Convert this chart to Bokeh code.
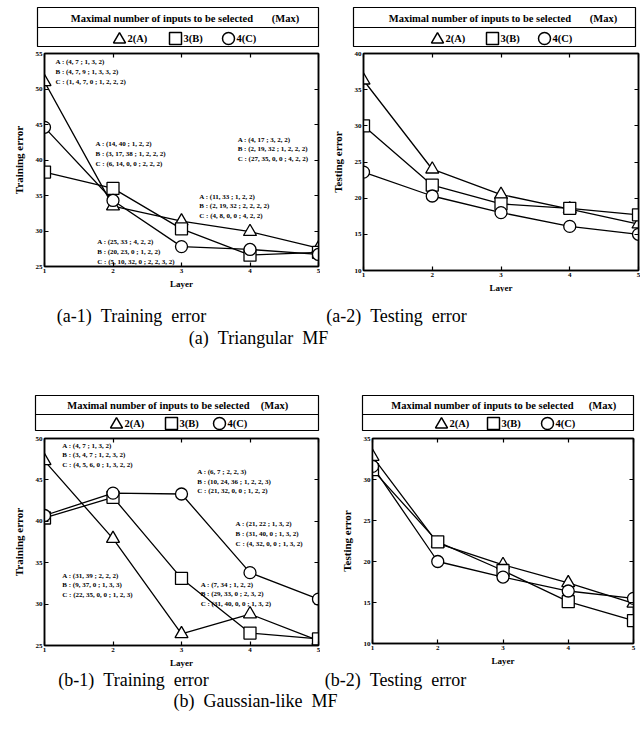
from bokeh.plotting import figure
from bokeh.models import Range1d, LinearAxis, FixedTicker, ColumnDataSource
from bokeh.layouts import column, row
from bokeh.embed import file_html
from bokeh.resources import INLINE
from bokeh.core.properties import value

FONT = "Liberation Serif"
NB = "\u00a0"

# ---------------- data ----------------
layers = [1, 2, 3, 4, 5]
series_labels = ["2(A)", "3(B)", "4(C)"]
series_markers = ["triangle", "square", "circle"]
legend_title = "Maximal number of inputs to be selected"
legend_max = "(Max)"

a1_train_A = [51.0, 33.5, 31.4, 29.9, 27.6]
a1_train_B = [38.3, 36.0, 30.3, 26.6, 27.0]
a1_train_C = [44.6, 34.3, 27.8, 27.4, 26.7]

a2_test_A = [36.3, 24.0, 20.5, 18.5, 16.4]
a2_test_B = [30.0, 21.8, 19.2, 18.6, 17.7]
a2_test_C = [23.6, 20.3, 18.0, 16.1, 15.0]

b1_train_A = [47.3, 37.9, 26.4, 28.8, 25.6]
b1_train_B = [40.4, 42.9, 33.1, 26.5, 25.8]
b1_train_C = [40.7, 43.4, 43.3, 33.8, 30.6]

b2_test_A = [32.8, 22.2, 19.6, 17.4, 14.9]
b2_test_B = [31.2, 22.4, 18.9, 15.1, 12.8]
b2_test_C = [31.6, 20.0, 18.1, 16.4, 15.5]

a1_yticks = [25, 30, 35, 40, 45, 50, 55]
a2_yticks = [10, 15, 20, 25, 30, 35, 40]
b1_yticks = [25, 30, 35, 40, 45, 50]
b2_yticks = [10, 15, 20, 25, 30, 35]

a1_notes = [
    "A : (4, 7 ; 1, 3, 2)\nB : (4, 7, 9 ; 1, 3, 3, 2)\nC : (1, 4, 7, 0 ; 1, 2, 2, 2)",
    "A : (14, 40 ; 1, 2, 2)\nB : (3, 17, 38 ; 1, 2, 2, 2)\nC : (6, 14, 0, 0 ; 2, 2, 2)",
    "A : (4, 17 ; 3, 2, 2)\nB : (2, 19, 32 ; 1, 2, 2, 2)\nC : (27, 35, 0, 0 ; 4, 2, 2)",
    "A : (11, 33 ; 1, 2, 2)\nB : (2, 19, 32 ; 2, 2, 2, 2)\nC : (4, 8, 0, 0 ; 4, 2, 2)",
    "A : (25, 33 ; 4, 2, 2)\nB : (20, 23, 0 ; 1, 2, 2)\nC : (5, 10, 32, 0 ; 2, 2, 3, 2)",
]
a1_notes_x = [1.16, 1.745, 3.82, 3.26, 1.77]
a1_notes_y = [54.3, 42.75, 43.45, 35.4, 28.95]

b1_notes = [
    "A : (4, 7 ; 1, 3, 2)\nB : (3, 4, 7 ; 1, 2, 3, 2)\nC : (4, 5, 6, 0 ; 1, 3, 2, 2)",
    "A : (6, 7 ; 2, 2, 3)\nB : (10, 24, 36 ; 1, 2, 2, 3)\nC : (21, 32, 0, 0 ; 1, 2, 2)",
    "A : (21, 22 ; 1, 3, 2)\nB : (31, 40, 0 ; 1, 3, 2)\nC : (4, 32, 0, 0 ; 1, 3, 2)",
    "A : (31, 39 ; 2, 2, 2)\nB : (9, 37, 0 ; 1, 3, 3)\nC : (22, 35, 0, 0 ; 1, 2, 3)",
    "A : (7, 34 ; 1, 2, 2)\nB : (29, 33, 0 ; 2, 3, 2)\nC : (31, 40, 0, 0 ; 1, 3, 2)",
]
b1_notes_x = [1.26, 3.23, 3.79, 1.26, 3.28]
b1_notes_y = [49.6, 46.4, 40.1, 33.9, 32.85]

captions_a = ["(a-1)  Training  error", "(a-2)  Testing  error", "(a)  Triangular  MF"]
captions_b = ["(b-1)  Training  error", "(b-2)  Testing  error", "(b)  Gaussian-like  MF"]

MARKER_SIZE = {"triangle": 13, "square": 12, "circle": 12}


def style_axis(ax, ticks, hide_labels=False):
    ax.ticker = FixedTicker(ticks=ticks)
    ax.major_tick_in = 4
    ax.major_tick_out = 0
    ax.minor_tick_line_color = None
    ax.axis_line_width = 1.5
    ax.major_tick_line_width = 1.2
    ax.major_label_text_font = FONT
    ax.major_label_text_font_style = "bold"
    ax.major_label_text_color = "black"
    if hide_labels:
        ax.major_label_text_font_size = "0px"
        ax.major_label_standoff = 0
        ax.major_label_overrides = {t: "" for t in ticks}
    else:
        ax.major_label_text_font_size = "7px"
        ax.major_label_standoff = 2


def make_plot(series, yr, yticks, ylabel, left, fw, right, top, fh, bottom,
              notes=None, notes_x=None, notes_y=None):
    p = figure(frame_width=fw, frame_height=fh, min_border_left=left,
               min_border_right=right, min_border_top=top, min_border_bottom=bottom,
               x_range=Range1d(1, 5), y_range=Range1d(*yr),
               toolbar_location=None, output_backend="svg",
               background_fill_color="white", border_fill_color="white",
               outline_line_color="black", outline_line_width=1.5)
    p.grid.visible = False
    style_axis(p.xaxis[0], layers)
    style_axis(p.yaxis[0], yticks)
    p.xaxis.axis_label = "Layer"
    p.yaxis.axis_label = ylabel
    for ax in (p.xaxis[0], p.yaxis[0]):
        ax.axis_label_text_font = FONT
        ax.axis_label_text_font_style = "bold"
        ax.axis_label_text_color = "black"
    p.xaxis.axis_label_text_font_size = "9px"
    p.xaxis.axis_label_standoff = 3
    p.yaxis.axis_label_text_font_size = "11px"
    p.yaxis.axis_label_standoff = 8

    ra = LinearAxis()
    style_axis(ra, yticks, hide_labels=True)
    p.add_layout(ra, "right")
    ta = LinearAxis()
    style_axis(ta, layers, hide_labels=True)
    p.add_layout(ta, "above")

    for vals in series:
        p.line(layers, vals, line_color="black", line_width=1.3)
    for vals, m in zip(series, series_markers):
        p.scatter(layers, vals, marker=m, size=MARKER_SIZE[m], fill_color="white",
                  line_color="black", line_width=1.3)

    if notes:
        src = ColumnDataSource(dict(x=notes_x, y=notes_y, text=notes))
        p.text(x="x", y="y", text="text", source=src, text_font=value(FONT),
               text_font_size=value("7px"), text_font_style="bold",
               text_baseline="top", text_align="left", text_line_height=1.2,
               text_color="black")
    return p


def blank_fig(width, height):
    p = figure(width=width, height=height, x_range=Range1d(0, width),
               y_range=Range1d(height, 0), min_border=0, min_border_left=0,
               min_border_right=0, min_border_top=0, min_border_bottom=0,
               toolbar_location=None, output_backend="svg", x_axis_type=None,
               y_axis_type=None, outline_line_color=None,
               background_fill_color="white", border_fill_color="white")
    p.grid.visible = False
    return p


def make_legend(width, height, box, div_y, title_x, max_x, title_y, row_y, keys):
    p = blank_fig(width, height)
    l, r, t, b = box
    p.quad(left=[l], right=[r], top=[t], bottom=[b], fill_color=None,
           line_color="black", line_width=1.2)
    p.segment(x0=[l], x1=[r], y0=[div_y], y1=[div_y], line_color="black", line_width=1.2)
    p.text(x=[title_x], y=[title_y], text=[legend_title], text_align="center",
           text_baseline="middle", text_font=value(FONT), text_font_size=value("10.5px"),
           text_font_style="bold", text_color="black")
    p.text(x=[max_x], y=[title_y], text=[legend_max], text_align="center",
           text_baseline="middle", text_font=value(FONT), text_font_size=value("10.5px"),
           text_font_style="bold", text_color="black")
    for (mx, lx), m, lab in zip(keys, series_markers, series_labels):
        p.scatter([mx], [row_y + (1 if m == "triangle" else 0)], marker=m, size=12,
                  fill_color="white", line_color="black", line_width=1.5)
        p.text(x=[lx], y=[row_y], text=[lab], text_align="left", text_baseline="middle",
               text_font=value(FONT), text_font_size=value("10.5px"),
               text_font_style="bold", text_color="black")
    return p


def make_caption(width, height, items):
    p = blank_fig(width, height)
    for txt, x, y in items:
        p.text(x=[x], y=[y], text=[txt.replace(" ", NB)], text_align="center",
               text_baseline="middle", text_font=value(FONT),
               text_font_size=value("18px"), text_color="black")
    return p


# ---------------- figures ----------------
leg_a1 = make_legend(320, 48, (37, 318, 7, 46), 27, 161.5, 285, 18, 38,
                     [(119, 127), (175, 183), (228, 236)])
plot_a1 = make_plot([a1_train_A, a1_train_B, a1_train_C], (25, 55), a1_yticks,
                    "Training error", 44, 274, 2, 5, 213, 26,
                    a1_notes, a1_notes_x, a1_notes_y)

leg_a2 = make_legend(320, 48, (33, 315, 7, 46), 27, 159.5, 283, 18, 38,
                     [(117, 125), (172, 180), (224, 232)])
plot_a2 = make_plot([a2_test_A, a2_test_B, a2_test_C], (10, 40), a2_yticks,
                    "Testing error", 43, 275, 2, 2, 217, 25)

cap_a = make_caption(640, 97, [(captions_a[0], 131, 23), (captions_a[1], 396, 23),
                               (captions_a[2], 258, 45)])

leg_b1 = make_legend(320, 44, (35, 318, 6, 41), 25, 158, 274, 16, 34,
                     [(116, 124), (171, 179), (219, 227)])
plot_b1 = make_plot([b1_train_A, b1_train_B, b1_train_C], (25, 50), b1_yticks,
                    "Training error", 44, 274, 2, 4, 207, 22,
                    b1_notes, b1_notes_x, b1_notes_y)

leg_b2 = make_legend(320, 44, (42, 313, 6, 41), 25, 162, 282, 16, 34,
                     [(121, 129), (173, 181), (227, 235)])
plot_b2 = make_plot([b2_test_A, b2_test_B, b2_test_C], (10, 35), b2_yticks,
                    "Testing error", 52, 261, 7, 5, 205, 23)

cap_b = make_caption(640, 60, [(captions_b[0], 133, 10), (captions_b[1], 395, 10),
                               (captions_b[2], 255, 31)])

layout = column(
    row(leg_a1, leg_a2),
    row(plot_a1, plot_a2),
    cap_a,
    row(leg_b1, leg_b2),
    row(plot_b1, plot_b2),
    cap_b,
)

open("out.html", "w").write(file_html(layout, INLINE))
